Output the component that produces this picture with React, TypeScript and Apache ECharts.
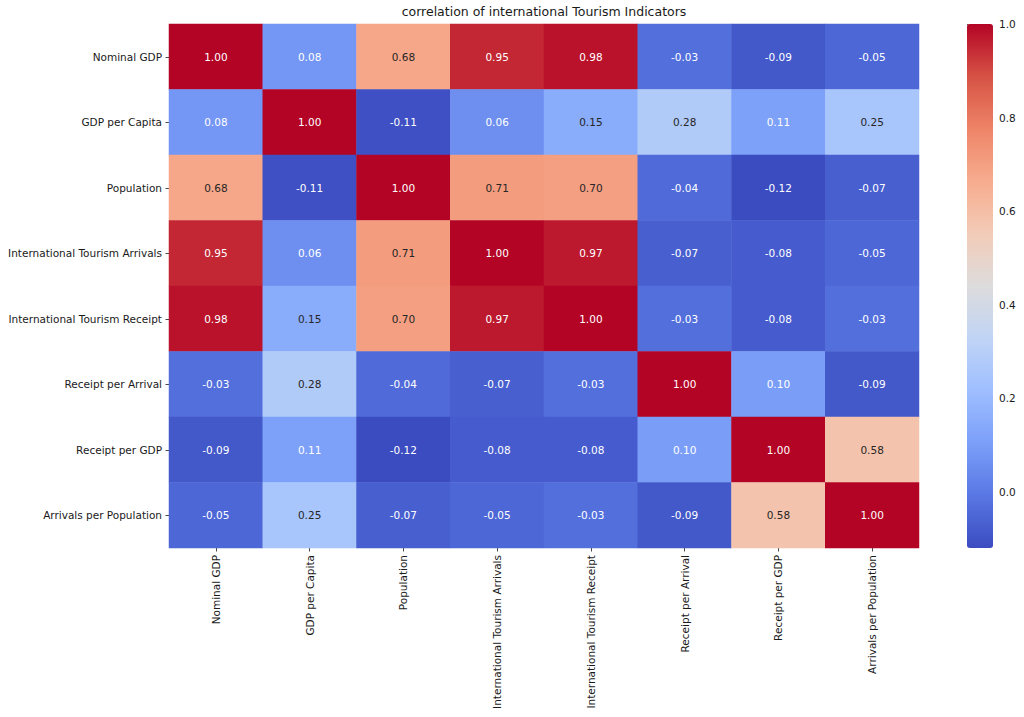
import React, { useEffect, useRef } from "react";
import * as echarts from "echarts";

const indicators = [
  "Nominal GDP",
  "GDP per Capita",
  "Population",
  "International Tourism Arrivals",
  "International Tourism Receipt",
  "Receipt per Arrival",
  "Receipt per GDP",
  "Arrivals per Population",
];

const rowNominalGDP = [1.0, 0.08, 0.68, 0.95, 0.98, -0.03, -0.09, -0.05];
const rowGDPperCapita = [0.08, 1.0, -0.11, 0.06, 0.15, 0.28, 0.11, 0.25];
const rowPopulation = [0.68, -0.11, 1.0, 0.71, 0.7, -0.04, -0.12, -0.07];
const rowArrivals = [0.95, 0.06, 0.71, 1.0, 0.97, -0.07, -0.08, -0.05];
const rowReceipt = [0.98, 0.15, 0.7, 0.97, 1.0, -0.03, -0.08, -0.03];
const rowReceiptPerArrival = [-0.03, 0.28, -0.04, -0.07, -0.03, 1.0, 0.1, -0.09];
const rowReceiptPerGDP = [-0.09, 0.11, -0.12, -0.08, -0.08, 0.1, 1.0, 0.58];
const rowArrivalsPerPopulation = [-0.05, 0.25, -0.07, -0.05, -0.03, -0.09, 0.58, 1.0];

const matrix = [
  rowNominalGDP,
  rowGDPperCapita,
  rowPopulation,
  rowArrivals,
  rowReceipt,
  rowReceiptPerArrival,
  rowReceiptPerGDP,
  rowArrivalsPerPopulation,
];

const colorbarTicks = [0.0, 0.2, 0.4, 0.6, 0.8, 1.0];
const scaleMin = -0.12;
const scaleMax = 1.0;

const coolwarm = [
  "#3b4cc0",
  "#5977e3",
  "#7b9ff9",
  "#9ebeff",
  "#c0d4f5",
  "#dddcdc",
  "#f2cbb7",
  "#f7ac8e",
  "#ee8468",
  "#d65244",
  "#b40426",
];

const FONT = "DejaVu Sans";
const LABEL_SIZE = 10.5;

function hexToRgb(h: string): number[] {
  const n = parseInt(h.slice(1), 16);
  return [(n >> 16) & 255, (n >> 8) & 255, n & 255];
}

function colorAt(v: number): number[] {
  let t = (v - scaleMin) / (scaleMax - scaleMin);
  t = Math.max(0, Math.min(1, t));
  const pos = t * (coolwarm.length - 1);
  const i = Math.min(Math.floor(pos), coolwarm.length - 2);
  const f = pos - i;
  const a = hexToRgb(coolwarm[i]);
  const b = hexToRgb(coolwarm[i + 1]);
  return a.map((c, k) => c + (b[k] - c) * f);
}

function luminance(rgb: number[]): number {
  const lin = rgb.map((c) => {
    const s = c / 255;
    return s <= 0.03928 ? s / 12.92 : Math.pow((s + 0.055) / 1.055, 2.4);
  });
  return 0.2126 * lin[0] + 0.7152 * lin[1] + 0.0722 * lin[2];
}

export default function App() {
  const ref = useRef<HTMLDivElement>(null);

  useEffect(() => {
    if (!ref.current) return;
    const chart = echarts.init(ref.current, undefined, { renderer: "svg" });

    const data: any[] = [];
    matrix.forEach((row, y) => {
      row.forEach((v, x) => {
        const lum = luminance(colorAt(v));
        data.push({
          value: [x, y, v],
          label: { color: lum > 0.408 ? "#262626" : "#ffffff" },
        });
      });
    });

    chart.setOption({
      animation: false,
      backgroundColor: "#ffffff",
      textStyle: { fontFamily: FONT },
      title: {
        text: "correlation of international Tourism Indicators",
        left: 544,
        textAlign: "center",
        top: 5,
        padding: 0,
        textStyle: {
          fontFamily: FONT,
          fontSize: 12.5,
          fontWeight: "normal",
          color: "#1a1a1a",
        },
      },
      grid: [
        { left: 169, top: 24, width: 750, height: 524 },
        { left: 967, top: 24, width: 26, height: 524 },
      ],
      xAxis: [
        {
          type: "category",
          data: indicators,
          gridIndex: 0,
          position: "bottom",
          axisLine: { show: false },
          axisTick: {
            show: true,
            alignWithLabel: true,
            length: 3.5,
            lineStyle: { color: "#1a1a1a", width: 0.8 },
          },
          axisLabel: {
            rotate: 90,
            interval: 0,
            margin: 7,
            fontSize: LABEL_SIZE,
            fontFamily: FONT,
            color: "#1a1a1a",
          },
          splitLine: { show: false },
        },
        {
          type: "value",
          gridIndex: 1,
          show: false,
          min: 0,
          max: 1,
        },
      ],
      yAxis: [
        {
          type: "category",
          data: indicators,
          gridIndex: 0,
          inverse: true,
          axisLine: { show: false },
          axisTick: {
            show: true,
            alignWithLabel: true,
            length: 3.5,
            lineStyle: { color: "#1a1a1a", width: 0.8 },
          },
          axisLabel: {
            interval: 0,
            margin: 7,
            fontSize: LABEL_SIZE,
            fontFamily: FONT,
            color: "#1a1a1a",
          },
          splitLine: { show: false },
        },
        {
          type: "value",
          gridIndex: 1,
          position: "right",
          min: scaleMin,
          max: scaleMax,
          axisLine: { show: false },
          axisTick: {
            show: true,
            length: 3.5,
            customValues: colorbarTicks,
            lineStyle: { color: "#1a1a1a", width: 0.8 },
          },
          axisLabel: {
            show: true,
            customValues: colorbarTicks,
            margin: 6,
            fontSize: LABEL_SIZE,
            fontFamily: FONT,
            color: "#1a1a1a",
            formatter: (v: number) => v.toFixed(1),
          },
          splitLine: { show: false },
        },
      ],
      visualMap: {
        type: "continuous",
        min: scaleMin,
        max: scaleMax,
        dimension: 2,
        seriesIndex: 0,
        calculable: false,
        orient: "vertical",
        left: 967,
        top: 24,
        padding: 0,
        itemWidth: 26,
        itemHeight: 524,
        text: null,
        showLabel: false,
        inRange: { color: coolwarm },
        hoverLink: false,
      },
      series: [
        {
          type: "heatmap",
          xAxisIndex: 0,
          yAxisIndex: 0,
          data,
          itemStyle: { borderWidth: 0 },
          label: {
            show: true,
            fontSize: LABEL_SIZE,
            fontFamily: FONT,
            formatter: (p: any) => Number(p.value[2]).toFixed(2),
          },
          emphasis: { disabled: true },
        },
      ],
    });

    return () => chart.dispose();
  }, []);

  return (
    <div
      ref={ref}
      style={{ position: "fixed", left: 0, top: 0, width: 1024, height: 717 }}
    />
  );
}
